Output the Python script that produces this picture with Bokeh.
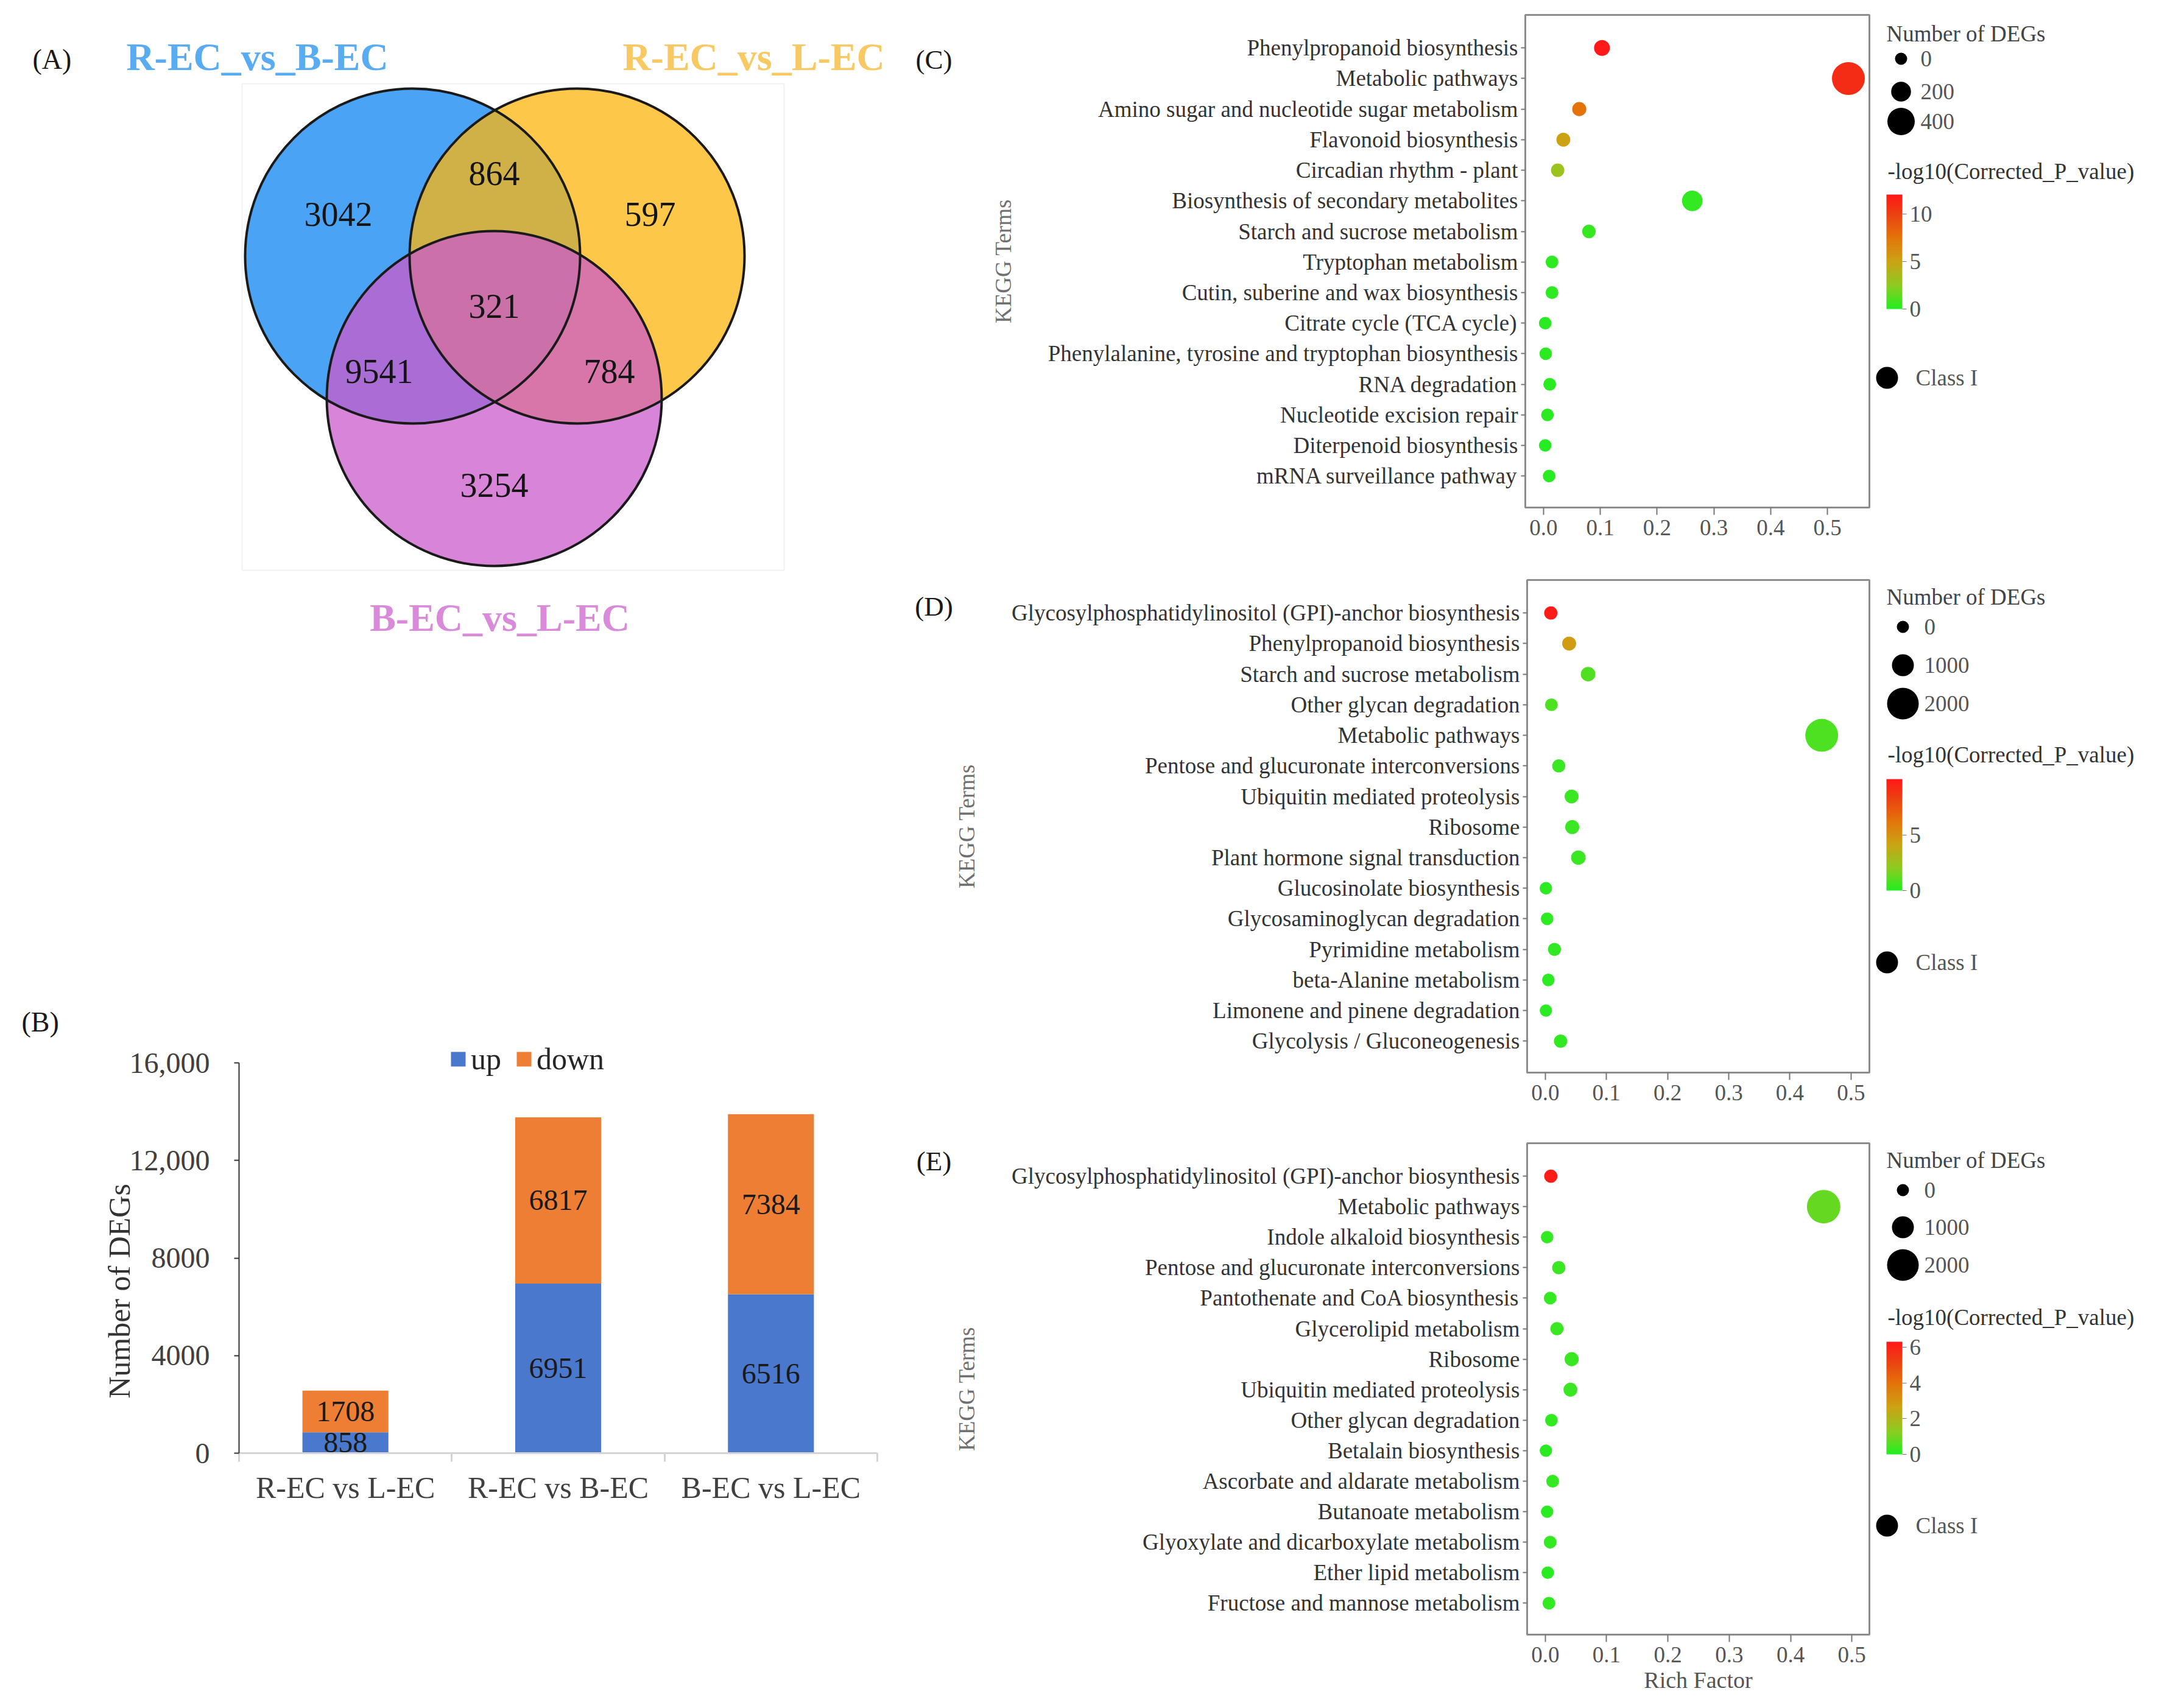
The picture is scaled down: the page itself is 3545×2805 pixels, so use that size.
import numpy as np
from bokeh.plotting import figure
from bokeh.models import (Range1d, FixedTicker, ColumnDataSource,
                          LinearColorMapper, ColorBar)
from bokeh.layouts import row, column
from bokeh.core.properties import value
from bokeh.embed import file_html
from bokeh.resources import INLINE

SERIF = "Liberation Serif"

# ------------------------------------------------------------------ data
venn_sets = ["R-EC_vs_B-EC", "R-EC_vs_L-EC", "B-EC_vs_L-EC"]
venn_regions = ["B only", "B&Y", "Y only", "all", "B&P", "Y&P", "P only"]
venn_counts = [3042, 864, 597, 321, 9541, 784, 3254]

bar_groups = ["R-EC vs L-EC", "R-EC vs B-EC", "B-EC vs L-EC"]
bar_up = [858, 6951, 6516]
bar_down = [1708, 6817, 7384]
bar_yticks = [0, 4000, 8000, 12000, 16000]
bar_ytick_labels = ["0", "4000", "8000", "12,000", "16,000"]

rich_ticks = [0.0, 0.1, 0.2, 0.3, 0.4, 0.5]
rich_tick_labels = ["0.0", "0.1", "0.2", "0.3", "0.4", "0.5"]

c_terms = ["Phenylpropanoid biosynthesis", "Metabolic pathways",
           "Amino sugar and nucleotide sugar metabolism", "Flavonoid biosynthesis",
           "Circadian rhythm - plant", "Biosynthesis of secondary metabolites",
           "Starch and sucrose metabolism", "Tryptophan metabolism",
           "Cutin, suberine and wax biosynthesis", "Citrate cycle (TCA cycle)",
           "Phenylalanine, tyrosine and tryptophan biosynthesis", "RNA degradation",
           "Nucleotide excision repair", "Diterpenoid biosynthesis", "mRNA surveillance pathway"]
c_rich = [0.103, 0.537, 0.063, 0.035, 0.025, 0.262, 0.080, 0.015, 0.015, 0.003, 0.004, 0.011, 0.007, 0.003, 0.010]
c_count = [96, 544, 50, 45, 32, 220, 35, 15, 15, 10, 10, 15, 12, 8, 12]
c_logp = [12.0, 11.0, 7.6, 5.1, 3.0, 0.4, 0.5, 0.3, 0.3, 0.2, 0.2, 0.2, 0.2, 0.1, 0.2]
c_size_legend = [0, 200, 400]
c_cb_ticks = [0, 5, 10]
c_cb_max = 12.05

d_terms = ["Glycosylphosphatidylinositol (GPI)-anchor biosynthesis", "Phenylpropanoid biosynthesis",
           "Starch and sucrose metabolism", "Other glycan degradation", "Metabolic pathways",
           "Pentose and glucuronate interconversions", "Ubiquitin mediated proteolysis", "Ribosome",
           "Plant hormone signal transduction", "Glucosinolate biosynthesis",
           "Glycosaminoglycan degradation", "Pyrimidine metabolism", "beta-Alanine metabolism",
           "Limonene and pinene degradation", "Glycolysis / Gluconeogenesis"]
d_rich = [0.009, 0.039, 0.070, 0.010, 0.452, 0.022, 0.043, 0.044, 0.054, 0.001, 0.003, 0.015, 0.005, 0.001, 0.025]
d_count = [110, 180, 240, 60, 2125, 100, 180, 190, 230, 30, 40, 80, 40, 20, 110]
d_logp = [9.9, 4.5, 0.9, 0.8, 0.8, 0.5, 0.5, 0.5, 0.5, 0.2, 0.2, 0.3, 0.2, 0.2, 0.3]
d_size_legend = [0, 1000, 2000]
d_cb_ticks = [0, 5]
d_cb_max = 10.05

e_terms = ["Glycosylphosphatidylinositol (GPI)-anchor biosynthesis", "Metabolic pathways",
           "Indole alkaloid biosynthesis", "Pentose and glucuronate interconversions",
           "Pantothenate and CoA biosynthesis", "Glycerolipid metabolism", "Ribosome",
           "Ubiquitin mediated proteolysis", "Other glycan degradation", "Betalain biosynthesis",
           "Ascorbate and aldarate metabolism", "Butanoate metabolism",
           "Glyoxylate and dicarboxylate metabolism", "Ether lipid metabolism",
           "Fructose and mannose metabolism"]
e_rich = [0.009, 0.454, 0.003, 0.022, 0.008, 0.019, 0.043, 0.041, 0.010, 0.001, 0.012, 0.003, 0.008, 0.004, 0.006]
e_count = [110, 2190, 30, 110, 50, 100, 200, 180, 60, 20, 60, 25, 60, 35, 60]
e_logp = [6.2, 0.8, 0.2, 0.3, 0.2, 0.3, 0.3, 0.3, 0.2, 0.1, 0.2, 0.1, 0.2, 0.1, 0.2]
e_size_legend = [0, 1000, 2000]
e_cb_ticks = [0, 2, 4, 6]
e_cb_max = 6.3

# ------------------------------------------------------------------ styles
stops = [(0.0, (34, 238, 34)), (0.2, (140, 204, 32)), (0.42, (204, 162, 20)),
         (0.62, (226, 118, 10)), (0.83, (236, 64, 18)), (1.0, (255, 24, 24))]
_t = np.linspace(0, 1, 256)
_pos = [s[0] for s in stops]
_rgb = np.array([s[1] for s in stops], dtype=float)
PAL = ["#%02x%02x%02x" % tuple(int(round(np.interp(t, _pos, _rgb[:, k]))) for k in range(3)) for t in _t]

PAGE_H = 2800


def size_px(n, k):
    return list(20 + np.asarray(n, dtype=float) * k)


def plain_fig(w, h, xr, yr):
    f = figure(width=w, height=h, x_range=Range1d(*xr), y_range=Range1d(*yr),
               min_border=0, x_axis_location=None, y_axis_location=None,
               output_backend="svg", toolbar_location=None, frame_align=False)
    f.grid.visible = False
    f.outline_line_color = None
    return f


# ------------------------------------------------------------------ (A) Venn  (+ "(B)" tag)
venn_centers_x = [677, 947, 811]
venn_centers_y = [420, 420, 654]
venn_radius = 275
venn_fill = ["#4aa3f5", "#fcb60e", "#cb5bcb"]
venn_alpha = [1.0, 0.75, 0.75]
venn_title_color = ["#5aacf2", "#f8c862", "#d98ad9"]
venn_title_x = [422, 1237, 820]
venn_title_y = [93, 93, 1014]
venn_label_x = [555, 811, 1067, 811, 622, 1000, 811]
venn_label_y = [351, 284, 351, 502, 609, 609, 796]

TOP_B = 1704  # where the bar figure starts (reference px)

v = plain_fig(1500, TOP_B, (0, 1500), (TOP_B, 0))
v.quad(left=[397], right=[1287], top=[137], bottom=[936], fill_color=None,
       line_color="#f1f1f1", line_width=2)
for i in range(3):
    v.circle(x=[venn_centers_x[i]], y=[venn_centers_y[i]], radius=venn_radius,
             fill_color=venn_fill[i], fill_alpha=venn_alpha[i], line_color=None)
v.circle(x=venn_centers_x, y=venn_centers_y, radius=venn_radius, fill_color=None,
         line_color="#1a1a1a", line_width=4)
v.text(x=venn_label_x, y=venn_label_y, text=[str(c) for c in venn_counts],
       text_font=value(SERIF), text_font_size=value("56px"), text_color="#151515",
       text_align="center", text_baseline="middle")
v.text(x=venn_title_x, y=venn_title_y, text=venn_sets, text_color=venn_title_color,
       text_font=value(SERIF), text_font_size=value("64px"), text_font_style="bold",
       text_align="center", text_baseline="middle")
v.text(x=[53, 35], y=[97, 1678], text=["(A)", "(B)"], text_font=value(SERIF),
       text_font_size=value("46px"), text_color="#1a1a1a", text_align="left",
       text_baseline="middle")

# ------------------------------------------------------------------ (B) bars
xs = [i + 0.5 for i in range(len(bar_groups))]
tops = [u + d for u, d in zip(bar_up, bar_down)]
bsrc = ColumnDataSource(dict(
    x=xs, up=bar_up, top=tops,
    up_mid=[u / 2 for u in bar_up],
    down_mid=[u + d / 2 for u, d in zip(bar_up, bar_down)],
    up_txt=[str(u) for u in bar_up], down_txt=[str(d) for d in bar_down]))

B_FRAME_BOTTOM = 2386
B_UNITS_PER_PX = 16000 / (B_FRAME_BOTTOM - 1745)
b = figure(width=1500, height=PAGE_H - TOP_B, x_range=Range1d(0, 3),
           y_range=Range1d(0, (B_FRAME_BOTTOM - TOP_B) * B_UNITS_PER_PX),
           output_backend="svg", toolbar_location=None, min_border=0, frame_align=False)
b.min_border_left = 392
b.min_border_right = 60
b.min_border_top = 0
b.min_border_bottom = PAGE_H - B_FRAME_BOTTOM
b.grid.visible = False
b.outline_line_color = None
b.vbar(x="x", bottom=0, top="up", width=0.404, source=bsrc, fill_color="#4a78cc",
       line_color=None, legend_label="up")
b.vbar(x="x", bottom="up", top="top", width=0.404, source=bsrc, fill_color="#ee7e33",
       line_color=None, legend_label="down")
for ycol, tcol in (("up_mid", "up_txt"), ("down_mid", "down_txt")):
    b.text(x="x", y=ycol, text=tcol, source=bsrc, text_font=value(SERIF),
           text_font_size=value("48px"), text_color="#1a1a1a",
           text_align="center", text_baseline="middle")

b.yaxis.bounds = (0, 16000)
b.yaxis.ticker = FixedTicker(ticks=bar_yticks)
b.yaxis.major_label_overrides = dict(zip(bar_yticks, bar_ytick_labels))
b.yaxis.axis_label = "Number of DEGs" + "\u00a0" * 12
b.yaxis.axis_label_text_font = SERIF
b.yaxis.axis_label_text_font_size = "50px"
b.yaxis.axis_label_text_font_style = "normal"
b.yaxis.axis_label_text_color = "#333333"
b.yaxis.axis_label_standoff = -14
b.yaxis.major_label_text_font = SERIF
b.yaxis.major_label_text_font_size = "48px"
b.yaxis.major_label_text_color = "#404040"
b.yaxis.major_tick_out = 8
b.yaxis.major_tick_in = 0
b.yaxis.major_label_standoff = 40
b.yaxis.axis_line_color = "#333333"
b.yaxis.axis_line_width = 2
b.yaxis.major_tick_line_color = "#333333"
b.yaxis.major_tick_line_width = 2

b.xaxis.ticker = FixedTicker(ticks=xs, minor_ticks=[0, 1, 2, 3])
b.xaxis.major_label_overrides = dict(zip(xs, bar_groups))
b.xaxis.major_label_text_font = SERIF
b.xaxis.major_label_text_font_size = "50px"
b.xaxis.major_label_text_color = "#404040"
b.xaxis.major_tick_out = 0
b.xaxis.major_tick_in = 0
b.xaxis.minor_tick_out = 14
b.xaxis.minor_tick_in = 0
b.xaxis.minor_tick_line_color = "#d4d4d4"
b.xaxis.minor_tick_line_width = 3
b.xaxis.axis_line_color = "#d4d4d4"
b.xaxis.axis_line_width = 3
b.xaxis.major_label_standoff = 14

lg = b.legend[0]
lg.location = (345, B_FRAME_BOTTOM - 1768)
lg.orientation = "horizontal"
lg.label_text_font = SERIF
lg.label_text_font_size = "50px"
lg.label_text_color = "#262626"
lg.glyph_width = 30
lg.glyph_height = 30
lg.label_height = 46
lg.label_standoff = 6
lg.spacing = 22
lg.padding = 0
lg.margin = 0
lg.border_line_color = None
lg.background_fill_alpha = 0


# ------------------------------------------------------------------ (C)(D)(E) bubbles
TAG_W = 64
BUB_LEFT = 1500 + TAG_W
LEG_W = 465


def bubble(tag, terms, rich, count, logp, k, size_leg, cb_ticks, cb_max,
           fig_top, fig_h, frame_top, frame_bottom, xr, tag_y,
           legend_title_y, legend_ys, legend_cx, legend_lx, class_y,
           cb_title_y, cb_top, cb_bottom, xlabel=None):
    n = len(terms)
    yi = list(range(n))
    mapper = LinearColorMapper(palette=PAL, low=0, high=cb_max)
    src = ColumnDataSource(dict(rich=rich, yi=yi, d=size_px(count, k), logp=logp))

    t = plain_fig(TAG_W, fig_h, (1500, BUB_LEFT), (fig_top + fig_h, fig_top))
    t.text(x=[1533], y=[tag_y], text=[tag], text_font=value(SERIF), text_font_size=value("45px"),
           text_color="#1a1a1a", text_align="center", text_baseline="middle")

    p = figure(width=3075 - BUB_LEFT, height=fig_h, x_range=Range1d(*xr),
               y_range=Range1d(15.03, -1.08), output_backend="svg",
               toolbar_location=None, min_border=0, frame_align=False)
    p.min_border_left = 2504 - BUB_LEFT
    p.min_border_right = 6
    p.min_border_top = frame_top - fig_top
    p.min_border_bottom = fig_top + fig_h - frame_bottom
    p.grid.visible = False
    p.outline_line_color = "#8c8c8c"
    p.outline_line_width = 3
    p.outline_line_alpha = 1
    p.scatter("rich", "yi", size="d", source=src,
              fill_color={"field": "logp", "transform": mapper}, line_color=None)

    p.yaxis.ticker = FixedTicker(ticks=yi)
    p.yaxis.major_label_overrides = dict(zip(yi, terms))
    p.yaxis.major_label_text_font = SERIF
    p.yaxis.major_label_text_font_size = "37px"
    p.yaxis.major_label_text_color = "#333333"
    p.yaxis.major_tick_out = 7
    p.yaxis.major_tick_in = 0
    p.yaxis.major_label_standoff = 5
    p.yaxis.axis_label = "KEGG Terms"
    p.yaxis.axis_label_text_font = SERIF
    p.yaxis.axis_label_text_font_size = "37px"
    p.yaxis.axis_label_text_font_style = "normal"
    p.yaxis.axis_label_text_color = "#707070"
    p.yaxis.axis_label_standoff = 50

    p.xaxis.ticker = FixedTicker(ticks=rich_ticks)
    p.xaxis.major_label_overrides = dict(zip(rich_ticks, rich_tick_labels))
    p.xaxis.major_label_text_font = SERIF
    p.xaxis.major_label_text_font_size = "37px"
    p.xaxis.major_label_text_color = "#555555"
    p.xaxis.major_tick_out = 12
    p.xaxis.major_tick_in = 0
    p.xaxis.major_label_standoff = 8
    if xlabel:
        p.xaxis.axis_label = xlabel
        p.xaxis.axis_label_text_font = SERIF
        p.xaxis.axis_label_text_font_size = "38px"
        p.xaxis.axis_label_text_font_style = "normal"
        p.xaxis.axis_label_text_color = "#555555"
        p.xaxis.axis_label_standoff = 5
    p.axis.axis_line_color = "#8c8c8c"
    p.axis.axis_line_width = 3
    p.axis.major_tick_line_color = "#777777"
    p.axis.major_tick_line_width = 2

    # legend panel
    q = plain_fig(LEG_W, fig_h, (3075, 3075 + LEG_W), (fig_top + fig_h, fig_top))
    q.text(x=[3097, 3099], y=[legend_title_y, cb_title_y],
           text=["Number of DEGs", "-log10(Corrected_P_value)"], text_font=value(SERIF),
           text_font_size=value("37px"), text_color=["#444444", "#333333"], text_align="left",
           text_baseline="middle")
    q.scatter(x=[legend_cx] * len(size_leg), y=legend_ys, size=size_px(size_leg, k),
              fill_color="black", line_color=None)
    q.text(x=[legend_lx] * len(size_leg), y=legend_ys, text=[str(s) for s in size_leg],
           text_font=value(SERIF), text_font_size=value("37px"), text_color="#555555",
           text_align="left", text_baseline="middle")
    q.scatter(x=[3098], y=[class_y], size=36, fill_color="black", line_color=None)
    q.text(x=[3145], y=[class_y], text=["Class I"], text_font=value(SERIF),
           text_font_size=value("37px"), text_color="#555555", text_align="left",
           text_baseline="middle")
    cb = ColorBar(color_mapper=mapper, ticker=FixedTicker(ticks=cb_ticks),
                  width=26, height=cb_bottom - cb_top,
                  location=(3097 - 3075, fig_top + fig_h - cb_bottom), padding=0,
                  major_label_text_font=SERIF, major_label_text_font_size="37px",
                  major_label_text_color="#555555", major_tick_in=0, major_tick_out=7,
                  major_tick_line_color="#777777", label_standoff=5,
                  bar_line_color=None, border_line_color=None, background_fill_color=None)
    q.add_layout(cb)
    return row(t, p, q)


pc = bubble("(C)", c_terms, c_rich, c_count, c_logp, 0.0625, c_size_legend, c_cb_ticks, c_cb_max,
            0, 925, 24, 833, (-0.032, 0.574), 97,
            55, [96, 150, 199], 3121, 3153, 620, 281, 319, 507)
pd_ = bubble("(D)", d_terms, d_rich, d_count, d_logp, 0.016, d_size_legend, d_cb_ticks, d_cb_max,
             925, 925, 952, 1761, (-0.0297, 0.530), 995,
             980, [1029, 1092, 1155], 3124, 3159, 1580, 1239, 1279, 1462)
pe = bubble("(E)", e_terms, e_rich, e_count, e_logp, 0.016, e_size_legend, e_cb_ticks, e_cb_max,
            1850, PAGE_H - 1850, 1877, 2684, (-0.0296, 0.5286), 1906,
            1905, [1954, 2015, 2077], 3124, 3159, 2505, 2163, 2203, 2388, xlabel="Rich Factor")

page = row(column(v, b), column(pc, pd_, pe))
open("out.html", "w").write(file_html(page, INLINE))
